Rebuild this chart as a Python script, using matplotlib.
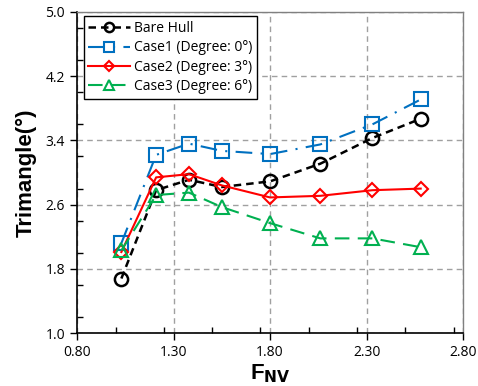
import matplotlib.pyplot as plt
from matplotlib.ticker import MultipleLocator

# data
fnv = [1.03, 1.21, 1.38, 1.55, 1.80, 2.06, 2.33, 2.58]
bare_hull = [1.68, 2.78, 2.91, 2.82, 2.89, 3.11, 3.43, 3.67]
case1 = [2.12, 3.22, 3.36, 3.27, 3.23, 3.35, 3.60, 3.91]
case2 = [2.01, 2.94, 2.98, 2.84, 2.69, 2.71, 2.78, 2.80]
case3 = [2.03, 2.72, 2.75, 2.57, 2.37, 2.18, 2.18, 2.07]
labels = ['Bare Hull', 'Case1 (Degree: 0°)', 'Case2 (Degree: 3°)', 'Case3 (Degree: 6°)']

tick_font = 'Open Sans'

fig = plt.figure(figsize=(4.78, 3.86), dpi=100)
ax = fig.add_axes([0.161, 0.137, 0.808, 0.832])

ms = 9.5
ax.plot(fnv, bare_hull, color='black', ls=(0, (3, 2)), lw=1.8, marker='o', ms=ms,
        mfc='none', mew=1.8, label=labels[0])
ax.plot(fnv, case1, color='#0070C0', ls=(0, (8, 4, 1, 4)), lw=1.5, marker='s', ms=ms,
        mfc='none', mew=1.5, label=labels[1])
ax.plot(fnv, case2, color='#FF0000', ls='-', lw=1.5, marker='D', ms=7.5,
        mfc='none', mew=1.5, label=labels[2])
ax.plot(fnv, case3, color='#00B050', ls=(0, (7, 4)), lw=1.5, marker='^', ms=ms,
        mfc='none', mew=1.5, label=labels[3])

ax.set_xlim(0.8, 2.8)
ax.set_ylim(1.0, 5.0)
ax.xaxis.set_minor_locator(MultipleLocator(0.25))
ax.yaxis.set_minor_locator(MultipleLocator(0.4))
ax.set_xticks([0.8, 1.3, 1.8, 2.3, 2.8])
ax.set_xticklabels(['0.80', '1.30', '1.80', '2.30', '2.80'], fontfamily=tick_font, fontsize=10)
ax.set_yticks([1.0, 1.8, 2.6, 3.4, 4.2, 5.0])
ax.set_yticklabels(['1.0', '1.8', '2.6', '3.4', '4.2', '5.0'], fontfamily=tick_font, fontsize=10)
ax.tick_params(which='major', direction='out', length=5, width=1)
ax.tick_params(which='minor', direction='in', length=4, width=1)
ax.grid(which='major', color='#A0A0A0', ls=(0, (4, 3)), lw=1)
ax.set_axisbelow(True)
for s in ax.spines.values():
    s.set_linewidth(1.2)
ax.spines['top'].set_color('#808080')
ax.spines['right'].set_color('#808080')
ax.spines['top'].set_linewidth(1)
ax.spines['right'].set_linewidth(1)

ax.set_xlabel(r'F$_{\mathbf{NV}}$', fontfamily='Liberation Sans', fontsize=16,
              fontweight='bold', labelpad=2)
ax.set_ylabel('Trimangle(°)', fontfamily='Liberation Sans', fontsize=16,
              fontweight='bold', labelpad=6)

leg = ax.legend(loc='upper left', bbox_to_anchor=(0.017, 0.986), fancybox=False,
                edgecolor='black', framealpha=1, prop={'family': tick_font, 'size': 10},
                handlelength=3.0, borderpad=0.35, labelspacing=0.3, handletextpad=0.3,
                borderaxespad=0, markerscale=0.7)
leg.get_frame().set_linewidth(1)

fig.savefig('out.png', dpi=100)
